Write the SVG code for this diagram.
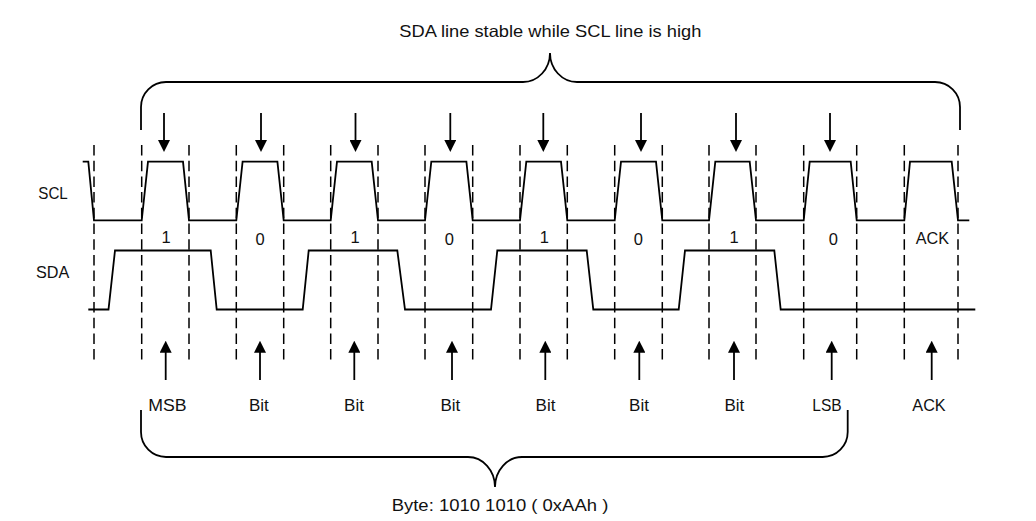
<svg xmlns="http://www.w3.org/2000/svg" width="1036" height="521" viewBox="0 0 1036 521">
<style>
  .sig{fill:none;stroke:#000;stroke-width:1.8;stroke-linejoin:miter}
  .dash{stroke:#000;stroke-width:1.5;stroke-dasharray:10.5 5.2}
  .arr{stroke:#000;stroke-width:1.8;marker-end:url(#head)}
  .brace{fill:none;stroke:#000;stroke-width:1.8}
  text{font-family:"Liberation Sans",Arial,sans-serif;fill:#111}
  .lbl{font-size:17px}
  .bit{font-size:16.5px;text-anchor:middle}
  .bot{font-size:17px;text-anchor:middle}
</style>
<defs>
  <marker id="head" viewBox="0 0 12 12" refX="6" refY="6" markerWidth="12" markerHeight="12" markerUnits="userSpaceOnUse" orient="auto">
    <path d="M0,0 L12,6 L0,12 z" fill="#000"/>
  </marker>
</defs>
<rect width="1036" height="521" fill="#fff"/>

<g id="title">
  <text x="399.3" y="36.7" style="font-size:16.5px" textLength="302" lengthAdjust="spacingAndGlyphs">SDA line stable while SCL line is high</text>
</g>

<g id="top-brace">
  <path class="brace" d="M141,130 V107 A25,25 0 0 1 166,82 H523 A27,29 0 0 0 550,53 A27,29 0 0 0 577,82 H935 A25,25 0 0 1 960,107 V130"/>
</g>

<g id="signal-labels">
  <text class="lbl" x="38.3" y="199" textLength="29.5" lengthAdjust="spacingAndGlyphs">SCL</text>
  <text class="lbl" x="36" y="278.3" textLength="33.3" lengthAdjust="spacingAndGlyphs">SDA</text>
</g>

<g id="dashed-lines">
  <line class="dash" x1="94" y1="145" x2="94" y2="362"/>
  <line class="dash" x1="141.7" y1="145" x2="141.7" y2="362"/>
  <line class="dash" x1="189" y1="145" x2="189" y2="362"/>
  <line class="dash" x1="236.3" y1="145" x2="236.3" y2="362"/>
  <line class="dash" x1="283.7" y1="145" x2="283.7" y2="362"/>
  <line class="dash" x1="330.7" y1="145" x2="330.7" y2="362"/>
  <line class="dash" x1="378" y1="145" x2="378" y2="362"/>
  <line class="dash" x1="425" y1="145" x2="425" y2="362"/>
  <line class="dash" x1="472.7" y1="145" x2="472.7" y2="362"/>
  <line class="dash" x1="520" y1="145" x2="520" y2="362"/>
  <line class="dash" x1="567.3" y1="145" x2="567.3" y2="362"/>
  <line class="dash" x1="614.7" y1="145" x2="614.7" y2="362"/>
  <line class="dash" x1="662.3" y1="145" x2="662.3" y2="362"/>
  <line class="dash" x1="709" y1="145" x2="709" y2="362"/>
  <line class="dash" x1="756" y1="145" x2="756" y2="362"/>
  <line class="dash" x1="803.7" y1="145" x2="803.7" y2="362"/>
  <line class="dash" x1="856.7" y1="145" x2="856.7" y2="362"/>
  <line class="dash" x1="904.3" y1="145" x2="904.3" y2="362"/>
  <line class="dash" x1="958" y1="145" x2="958" y2="362"/>
</g>

<g id="scl">
  <path class="sig" d="M82.7,161.7 H88.3 L94,220.3 H141.7 L148,161.7 H183 L189,220.3 H236.3 L242.6,161.7 H277.4 L283.7,220.3 H330.7 L337,161.7 H371.7 L378,220.3 H425 L431.3,161.7 H466.4 L472.7,220.3 H520 L526.3,161.7 H561 L567.3,220.3 H614.7 L621,161.7 H656 L662.3,220.3 H709 L715.3,161.7 H749.7 L756,220.3 H803.7 L809.7,161.7 H850.7 L856.7,220.3 H904.3 L910,161.7 H951.7 L958,220.3 H969.3"/>
</g>

<g id="sda">
  <path class="sig" d="M88.3,309.5 H108.5 L115,250.5 H210.7 L216.7,309.5 H302.7 L308.7,250.5 H397.3 L405,309.5 H491 L497.3,250.5 H586.7 L593.3,309.5 H678.7 L685,250.5 H774.3 L780.7,309.5 H975.3"/>
</g>

<g id="bit-values">
  <text class="bit" x="166" y="242.5">1</text>
  <text class="bit" x="260" y="244.8">0</text>
  <text class="bit" x="355" y="242.5">1</text>
  <text class="bit" x="449.3" y="244.8">0</text>
  <text class="bit" x="544.3" y="242.5">1</text>
  <text class="bit" x="638.3" y="244.8">0</text>
  <text class="bit" x="734" y="242.5">1</text>
  <text class="bit" x="833.3" y="244.5">0</text>
  <text class="bit" x="932.3" y="244" textLength="33.3" lengthAdjust="spacingAndGlyphs">ACK</text>
</g>

<g id="sample-arrows">
  <line class="arr" x1="164" y1="113" x2="164" y2="146"/>
  <line class="arr" x1="261" y1="113" x2="261" y2="146"/>
  <line class="arr" x1="355.5" y1="113" x2="355.5" y2="146"/>
  <line class="arr" x1="450.3" y1="113" x2="450.3" y2="146"/>
  <line class="arr" x1="543.3" y1="113" x2="543.3" y2="146"/>
  <line class="arr" x1="641" y1="113" x2="641" y2="146"/>
  <line class="arr" x1="736" y1="113" x2="736" y2="146"/>
  <line class="arr" x1="830" y1="113" x2="830" y2="146"/>
</g>

<g id="bit-arrows">
  <line class="arr" x1="165.7" y1="380" x2="165.7" y2="346.7"/>
  <line class="arr" x1="260" y1="380" x2="260" y2="346.7"/>
  <line class="arr" x1="354.3" y1="380" x2="354.3" y2="346.7"/>
  <line class="arr" x1="452" y1="380" x2="452" y2="346.7"/>
  <line class="arr" x1="545.3" y1="380" x2="545.3" y2="346.7"/>
  <line class="arr" x1="639.3" y1="380" x2="639.3" y2="346.7"/>
  <line class="arr" x1="734" y1="380" x2="734" y2="346.7"/>
  <line class="arr" x1="831.7" y1="380" x2="831.7" y2="346.7"/>
  <line class="arr" x1="931.7" y1="380" x2="931.7" y2="346.7"/>
</g>

<g id="bit-names">
  <text class="bot" x="167.5" y="410.7" textLength="38.4" lengthAdjust="spacingAndGlyphs">MSB</text>
  <text class="bot" x="258.8" y="410.7">Bit</text>
  <text class="bot" x="354" y="410.7">Bit</text>
  <text class="bot" x="450.3" y="410.7">Bit</text>
  <text class="bot" x="545.5" y="410.7">Bit</text>
  <text class="bot" x="639" y="410.7">Bit</text>
  <text class="bot" x="734.3" y="410.7">Bit</text>
  <text class="bot" x="827" y="410.7" textLength="29.4" lengthAdjust="spacingAndGlyphs">LSB</text>
  <text class="bot" x="929" y="410.7" textLength="33.4" lengthAdjust="spacingAndGlyphs">ACK</text>
</g>

<g id="bottom-brace">
  <path class="brace" d="M141,410 V432 A25,25 0 0 0 166,457 H468 A27,30 0 0 1 495,487 A27,30 0 0 1 522,457 H822.7 A25,25 0 0 0 847.7,432 V410"/>
</g>

<g id="byte-label">
  <text x="391.7" y="510.7" style="font-size:17px" textLength="216.6" lengthAdjust="spacingAndGlyphs">Byte: 1010 1010 ( 0xAAh )</text>
</g>
</svg>
